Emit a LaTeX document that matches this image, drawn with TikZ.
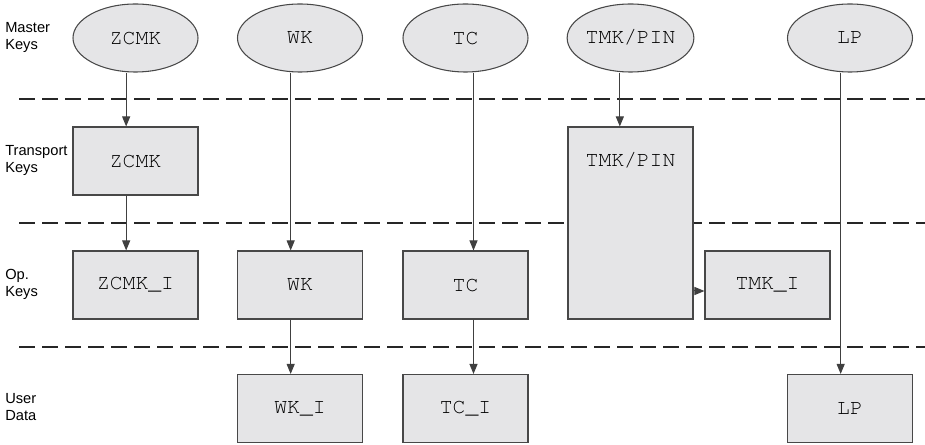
\documentclass[tikz,border=0pt]{standalone}
\usepackage[T1]{fontenc}
\usepackage{fontspec}
\setmainfont{Liberation Sans}
\usepackage{xcolor}
\usepackage{tikz}
\usetikzlibrary{shapes.geometric,arrows.meta}
\definecolor{keyfill}{RGB}{229,229,231}
\definecolor{keyline}{RGB}{72,72,72}
\newcommand{\keyfont}{\fontencoding{T1}\fontfamily{pcr}\fontseries{m}\fontsize{16}{18}\selectfont}
\tikzset{>={Triangle[length=7.5pt,width=6pt]}}

\begin{document}
\begin{tikzpicture}[line cap=butt,line join=miter,x=0.75pt,y=-0.75pt,
	masterkey/.style={ellipse,draw=keyline,fill=keyfill,line width=0.8pt,minimum width=93.75pt,minimum height=51pt,inner sep=0pt,font=\keyfont},
	keybox/.style={rectangle,draw=keyline,fill=keyfill,line width=0.8pt,minimum width=93.75pt,minimum height=51pt,inner sep=0pt,font=\keyfont},
	rowlabel/.style={anchor=west,align=left,inner sep=0pt,font=\fontsize{11}{12.75}\selectfont},
	layer/.style={draw=black!85,line width=1pt,dash pattern=on 12pt off 5.25pt},
	arr/.style={->,draw=black!75,line width=0.75pt}]
		\useasboundingbox (0,0) rectangle (925,445);
		% layer borders
		\draw[layer] (19,99) -- (925,99);
		\draw[layer] (19,223) -- (925,223);
		\draw[layer] (19,347) -- (925,347);
		% row labels
		\node[rowlabel] (masterlbl) at (5,37) {Master\\Keys};
		\node[rowlabel] (translbl) at (5,160) {Transport\\Keys};
		\node[rowlabel] (oplbl) at (5,284) {Op.\\Keys};
		\node[rowlabel] (userlbl) at (5,407) {User\\Data};
		% master keys
		\node[masterkey] (zcmkM) at (135.5,38) {ZCMK};
		\node[masterkey] (wkM) at (300,38) {WK};
		\node[masterkey] (tcM) at (465.5,38) {TC};
		\node[masterkey] (tmkM) at (630.5,38) {TMK/PIN};
		\node[masterkey] (lpM) at (850,38) {LP};
		% transport keys
		\node[keybox] (zcmkT) at (135.5,161) {ZCMK};
		\node[keybox,minimum height=144pt] (tmkT) at (630.5,223) {};
		\node[font=\keyfont,inner sep=0pt] (tmkTtext) at (630.5,161) {TMK/PIN};
		% op. keys
		\node[keybox] (zcmkO) at (135.5,285) {ZCMK\_I};
		\node[keybox] (wkO) at (300,285) {WK};
		\node[keybox] (tcO) at (465.5,285) {TC};
		\node[keybox] (tmkO) at (767.5,285) {TMK\_I};
		% user data
		\node[keybox] (wkU) at (300,408.5) {WK\_I};
		\node[keybox] (tcU) at (465.5,408.5) {TC\_I};
		\node[keybox] (lpU) at (850,408.5) {LP};
		% derivations
		\draw[arr] ([xshift=-7]zcmkM.south) -- ([xshift=-7]zcmkT.north);
		\draw[arr] ([xshift=-7]zcmkT.south) -- ([xshift=-7]zcmkO.north);
		\draw[arr] ([xshift=-7]wkM.south) -- ([xshift=-7]wkO.north);
		\draw[arr] ([xshift=-7]wkO.south) -- ([xshift=-7]wkU.north);
		\draw[arr] ([xshift=6]tcM.south) -- ([xshift=6]tcO.north);
		\draw[arr] ([xshift=6]tcO.south) -- ([xshift=6]tcU.north);
		\draw[arr] ([xshift=-8]tmkM.south) -- ([xshift=-8]tmkT.north);
		\draw[arr] (tmkT.east |- 0,291) -- (tmkO.west |- 0,291);
		\draw[arr] ([xshift=-7]lpM.south) -- ([xshift=-7]lpU.north);
\end{tikzpicture}
\end{document}
